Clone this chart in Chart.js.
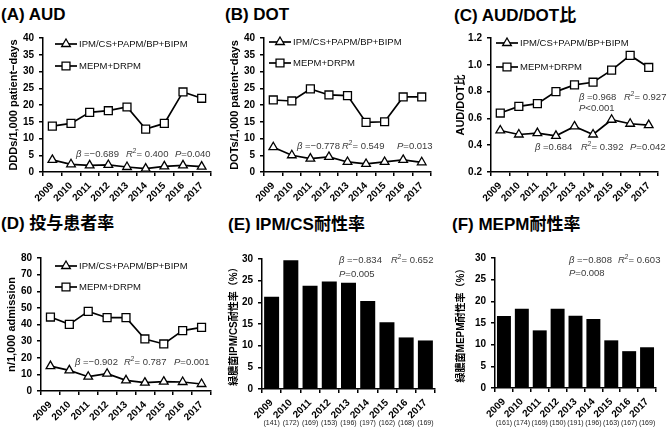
<!DOCTYPE html>
<html>
<head>
<meta charset="utf-8">
<script src="https://cdn.jsdelivr.net/npm/chart.js@4/dist/chart.umd.min.js"></script>
<style>
body { margin: 0; width: 672px; height: 428px; background: #fff; position: relative; overflow: hidden;
       font-family: "Liberation Sans", "Noto Sans CJK JP", sans-serif; }
canvas { position: absolute; }
.ttl { position: absolute; font-weight: bold; font-size: 17px; white-space: nowrap; line-height: 20px; color: #000; }
</style>
</head>
<body>
<div class="ttl" style="left:1px;top:5px">(A) AUD</div>
<div class="ttl" style="left:225px;top:5px">(B) DOT</div>
<div class="ttl" style="left:454px;top:6px">(C) AUD/DOT比</div>
<div class="ttl" style="left:1px;top:214px">(D) 投与患者率</div>
<div class="ttl" style="left:228px;top:215px">(E) IPM/CS耐性率</div>
<div class="ttl" style="left:452px;top:215px">(F) MEPM耐性率</div>

<canvas id="cA" width="224" height="214" style="left:0;top:0"></canvas>
<canvas id="cB" width="224" height="214" style="left:224px;top:0"></canvas>
<canvas id="cC" width="224" height="214" style="left:448px;top:0"></canvas>
<canvas id="cD" width="224" height="214" style="left:0;top:214px"></canvas>
<canvas id="cE" width="224" height="214" style="left:224px;top:214px"></canvas>
<canvas id="cF" width="224" height="214" style="left:448px;top:214px"></canvas>

<script>
// data
const years = ['2009', '2010', '2011', '2012', '2013', '2014', '2015', '2016', '2017'];
const seriesNames = ['IPM/CS+PAPM/BP+BIPM', 'MEPM+DRPM'];

const audIpm = [3.6, 2.3, 2.0, 2.1, 1.5, 1.0, 1.7, 2.0, 1.6];
const audMepm = [13.7, 14.5, 17.8, 18.3, 19.4, 12.8, 14.5, 23.9, 22.0];
const dotIpm = [7.4, 5.0, 4.0, 4.5, 3.0, 2.4, 3.0, 3.6, 2.9];
const dotMepm = [21.5, 21.2, 24.8, 23.0, 22.8, 14.8, 15.0, 22.4, 22.4];
const ratioIpm = [0.51, 0.48, 0.49, 0.47, 0.54, 0.48, 0.59, 0.56, 0.55];
const ratioMepm = [0.64, 0.69, 0.71, 0.80, 0.85, 0.87, 0.96, 1.07, 0.98];
const ptIpm = [15.0, 12.4, 8.6, 10.4, 6.4, 5.0, 5.6, 5.4, 4.2];
const ptMepm = [44.5, 40.1, 47.9, 44.1, 44.1, 31.3, 28.3, 36.3, 38.3];
const resIpm = [21.3, 29.7, 23.8, 24.8, 24.5, 20.3, 15.4, 11.9, 11.2];
const resMepm = [16.6, 18.3, 13.3, 18.3, 16.7, 15.9, 11.0, 8.5, 9.4];
const nIpm = [141, 172, 169, 153, 196, 197, 162, 168, 169];
const nMepm = [161, 174, 169, 150, 191, 196, 163, 167, 169];

const FONT = '"Liberation Sans", "Noto Sans CJK JP", sans-serif';

// line + marker legend drawn inside the plot area
const lineLegend = {
    id: 'lineLegend',
    afterDraw(chart, args, opts) {
        if (!opts.rows) return;
        const ctx = chart.ctx;
        const a = chart.chartArea;
        chart.data.datasets.forEach((ds, i) => {
            const y = a.top + opts.rows[i];
            const x0 = a.left + opts.x;
            ctx.save();
            ctx.strokeStyle = '#000';
            ctx.lineWidth = 1.7;
            ctx.beginPath();
            ctx.moveTo(x0, y);
            ctx.lineTo(x0 + opts.len, y);
            ctx.stroke();
            ctx.fillStyle = '#fff';
            ctx.lineWidth = 1.3;
            Chart.helpers.drawPoint(ctx, { pointStyle: ds.pointStyle, radius: ds.pointRadius, borderWidth: 1.3 }, x0 + opts.len / 2, y);
            ctx.fillStyle = '#111';
            ctx.font = '9.5px ' + FONT;
            ctx.textBaseline = 'middle';
            ctx.fillText(ds.label, x0 + opts.len + 2, y);
            ctx.restore();
        });
    }
};

// regression statistics text
const statsText = {
    id: 'stats',
    afterDraw(chart, args, opts) {
        if (!opts.items) return;
        const ctx = chart.ctx;
        ctx.save();
        ctx.fillStyle = '#3a3a3a';
        ctx.textBaseline = 'middle';
        opts.items.forEach(it => {
            let x = it.x;
            it.runs.forEach(([t, st]) => {
                const sup = st === 's';
                ctx.font = (st === 'i' ? 'italic ' : '') + (sup ? 6.5 : 9.5) + 'px ' + FONT;
                ctx.fillText(t, x, sup ? it.y - 3 : it.y);
                x += ctx.measureText(t).width;
            });
        });
        ctx.restore();
    }
};

// sample sizes under the year labels
const countsText = {
    id: 'counts',
    afterDraw(chart, args, opts) {
        if (!opts.values) return;
        const ctx = chart.ctx;
        const xs = chart.scales.x;
        ctx.save();
        ctx.fillStyle = '#222';
        ctx.font = '7px ' + FONT;
        ctx.textAlign = 'center';
        ctx.textBaseline = 'middle';
        opts.values.forEach((v, i) => ctx.fillText('(' + v + ')', xs.getPixelForValue(i), opts.y));
        ctx.restore();
    }
};

function stat3(xs, y, beta, r2, p, yP, xP) {
    return [
        { x: xs[0], y: y, runs: [['β', 'i'], [' =' + beta, '']] },
        { x: xs[1], y: y, runs: [['R', 'i'], ['2', 's'], ['= ' + r2, '']] },
        { x: xP != null ? xP : xs[2], y: yP != null ? yP : y, runs: [['P', 'i'], [p, '']] }
    ];
}

function lineSets(ipm, mepm) {
    const base = { borderColor: '#000', borderWidth: 1.7, pointBackgroundColor: '#fff', pointBorderColor: '#000',
                   pointBorderWidth: 1.3, tension: 0, clip: false };
    return [
        Object.assign({ label: seriesNames[0], data: ipm, pointStyle: 'triangle', pointRadius: 5 }, base),
        Object.assign({ label: seriesNames[1], data: mepm, pointStyle: 'rect', pointRadius: 5.6 }, base)
    ];
}

function makeChart(o) {
    const W = 224, H = 214;
    const a = o.area;
    const lh = o.yTitleSize * 1.2;
    const padL = o.yTitleX - lh / 2;
    return new Chart(document.getElementById(o.id), {
        type: o.type,
        data: { labels: years, datasets: o.datasets },
        options: {
            responsive: false,
            animation: false,
            devicePixelRatio: 1,
            layout: { padding: { left: padL, top: a[1], right: W - a[2], bottom: 0 } },
            plugins: {
                legend: { display: false },
                tooltip: { enabled: false },
                lineLegend: o.legend || {},
                stats: { items: o.stats },
                counts: o.counts || {}
            },
            scales: {
                x: {
                    offset: true,
                    grid: { offset: true, drawOnChartArea: false, tickLength: 4, tickColor: '#000', lineWidth: 1.5 },
                    border: { color: '#000', width: 1.5 },
                    ticks: { color: '#000', font: { family: FONT, weight: 'bold', size: 10 }, minRotation: 45, maxRotation: 45, padding: 4, autoSkip: false },
                    afterFit: s => { s.height = H - a[3]; }
                },
                y: {
                    min: o.yMin, max: o.yMax,
                    grid: { drawOnChartArea: false, tickLength: 4, tickColor: '#000', lineWidth: 1.5 },
                    border: { color: '#000', width: 1.5 },
                    ticks: { stepSize: o.yStep, color: '#000', padding: 5, font: { family: FONT, weight: 'bold', size: 10 },
                             callback: o.yFmt || (v => v) },
                    title: { display: true, text: o.yTitle, color: '#000', padding: 0,
                             font: { family: FONT, weight: 'bold', size: o.yTitleSize } },
                    afterFit: s => { s.width = a[0] - padL; }
                }
            }
        },
        plugins: [lineLegend, statsText, countsText]
    });
}

makeChart({
    id: 'cA', type: 'line', datasets: lineSets(audIpm, audMepm),
    area: [43, 38, 211, 172], yMin: 0, yMax: 40, yStep: 5,
    yTitle: 'DDDs/1,000 patient\u2212days', yTitleSize: 11, yTitleX: 14,
    legend: { x: 12, len: 22, rows: [6, 28] },
    stats: stat3([76, 126, 175], 154, '\u22120.689', '0.400', '=0.040')
});

makeChart({
    id: 'cB', type: 'line', datasets: lineSets(dotIpm, dotMepm),
    area: [40, 38, 207, 172], yMin: 0, yMax: 40, yStep: 5,
    yTitle: 'DOTs/1,000 patient\u2212days', yTitleSize: 11, yTitleX: 11,
    legend: { x: 5, len: 22, rows: [4, 25] },
    stats: stat3([73, 118, 173], 146, '\u22120.778', '0.549', '=0.013')
});

makeChart({
    id: 'cC', type: 'line', datasets: lineSets(ratioIpm, ratioMepm),
    area: [43, 38, 210, 172], yMin: 0.2, yMax: 1.2, yStep: 0.2,
    yFmt: v => v.toFixed(1),
    yTitle: 'AUD/DOT比', yTitleSize: 11, yTitleX: 13,
    legend: { x: 5, len: 22, rows: [5, 29] },
    stats: stat3([131, 176], 97, '0.968', '0.927', '<0.001', 108, 131)
        .concat(stat3([87, 133, 182], 147, '0.684', '0.392', '=0.042'))
});

makeChart({
    id: 'cD', type: 'line', datasets: lineSets(ptIpm, ptMepm),
    area: [41, 44, 211, 177], yMin: 0, yMax: 80, yStep: 10,
    yTitle: 'n/1,000 admission', yTitleSize: 11, yTitleX: 12,
    legend: { x: 14, len: 22, rows: [8, 29] },
    stats: stat3([75, 124, 174], 148, '\u22120.902', '0.787', '=0.001')
});

makeChart({
    id: 'cE', type: 'bar',
    datasets: [{ label: 'IPM/CS', data: resIpm, backgroundColor: '#000', barPercentage: 0.78, categoryPercentage: 1 }],
    area: [38, 45, 211, 175], yMin: 0, yMax: 30, yStep: 5,
    yTitle: '緑膿菌IPM/CS耐性率（%）', yTitleSize: 10, yTitleX: 10,
    stats: stat3([115, 167], 46, '\u22120.834', '0.652', '=0.005', 60, 115),
    counts: { values: nIpm, y: 209 }
});

makeChart({
    id: 'cF', type: 'bar',
    datasets: [{ label: 'MEPM', data: resMepm, backgroundColor: '#000', barPercentage: 0.78, categoryPercentage: 1 }],
    area: [47, 44, 208, 174], yMin: 0, yMax: 30, yStep: 5,
    yTitle: '緑膿菌MEPM耐性率（%）', yTitleSize: 10, yTitleX: 13,
    stats: stat3([121, 170], 46, '\u22120.808', '0.603', '=0.008', 59, 121),
    counts: { values: nMepm, y: 209 }
});
</script>
</body>
</html>
